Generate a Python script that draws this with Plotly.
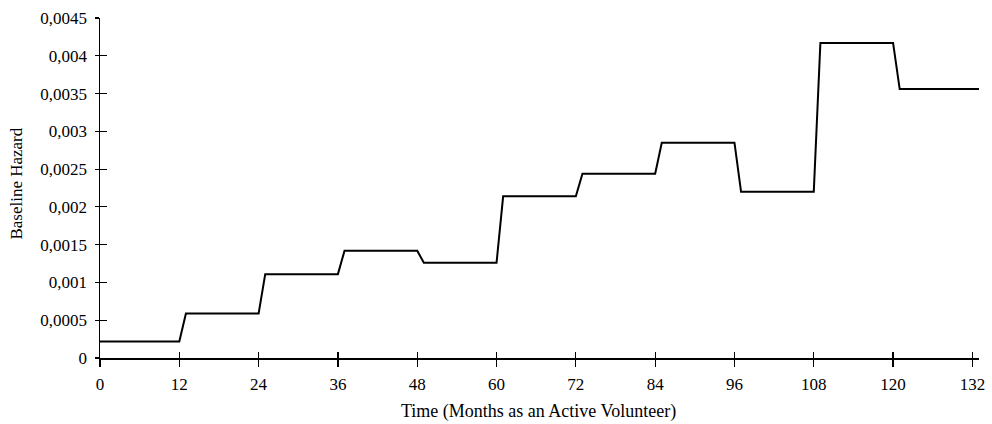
import plotly.graph_objects as go

# Baseline hazard per 12-month period (period starts in months)
period_start = [0, 12, 24, 36, 48, 60, 72, 84, 96, 108, 120]
hazard = [0.00022, 0.00059, 0.00111, 0.00142, 0.00126, 0.00214,
          0.00244, 0.00285, 0.00220, 0.00417, 0.00356]
last_month = 133

x_ticks = [0, 12, 24, 36, 48, 60, 72, 84, 96, 108, 120, 132]
y_ticks = [0, 0.0005, 0.001, 0.0015, 0.002, 0.0025, 0.003, 0.0035, 0.004, 0.0045]
y_tick_text = ["0", "0,0005", "0,001", "0,0015", "0,002", "0,0025",
               "0,003", "0,0035", "0,004", "0,0045"]

# build the step curve (value changes over one month after each period start)
xs, ys = [], []
for i, v in enumerate(hazard):
    start = period_start[i] if i == 0 else period_start[i] + 1
    end = period_start[i + 1] if i + 1 < len(period_start) else last_month
    xs += [start, end]
    ys += [v, v]

FONT = "Liberation Serif"

fig = go.Figure()
fig.add_trace(go.Scatter(x=xs, y=ys, mode="lines",
                         line=dict(color="black", width=2), showlegend=False,
                         hoverinfo="skip"))
# dummy trace for overlay axes (inside ticks -> crossing tick marks)
fig.add_trace(go.Scatter(x=[0], y=[0], xaxis="x2", yaxis="y2", mode="markers",
                         marker=dict(opacity=0), showlegend=False, hoverinfo="skip"))

W, H = 992, 424
L, R, T, B = 100, 992 - 985, 18, 424 - 358
pw = W - L - R
ph = H - T - B

def px_x(px):
    return (px - L) / pw

def px_y(py):
    return ((H - B) - py) / ph

fig.update_layout(
    width=W, height=H,
    margin=dict(l=L, r=R, t=T, b=B),
    plot_bgcolor="white", paper_bgcolor="white",
    font=dict(family=FONT, size=17, color="black"),
    hovermode=False,
    xaxis=dict(range=[0, last_month], tickvals=x_ticks, ticks="outside",
               ticklen=7, tickwidth=1.2, tickcolor="black",
               showline=True, linecolor="black", linewidth=1.5,
               showgrid=False, zeroline=False, ticklabelstandoff=3,
               tickfont=dict(family=FONT, size=17)),
    yaxis=dict(range=[0, 0.0045], tickvals=y_ticks, ticktext=y_tick_text,
               ticks="outside", ticklen=4, tickwidth=1.2, tickcolor="black",
               showline=True, linecolor="black", linewidth=1.5,
               showgrid=False, zeroline=False, ticklabelstandoff=4,
               tickfont=dict(family=FONT, size=17)),
    xaxis2=dict(range=[0, last_month], overlaying="x", tickvals=x_ticks,
                ticks="inside", ticklen=6, tickwidth=1.2, tickcolor="black",
                showticklabels=False, showgrid=False, zeroline=False,
                showline=False, side="bottom", anchor="y2"),
    yaxis2=dict(range=[0, 0.0045], overlaying="y", tickvals=y_ticks,
                ticks="inside", ticklen=7, tickwidth=1.2, tickcolor="black",
                showticklabels=False, showgrid=False, zeroline=False,
                showline=False, side="left", anchor="x2"),
    annotations=[
        dict(text="Time (Months as an Active Volunteer)", xref="paper", yref="paper",
             x=px_x(541), y=px_y(412), xanchor="center",
             yanchor="middle", showarrow=False, font=dict(family=FONT, size=18)),
        dict(text="Baseline Hazard", xref="paper", yref="paper",
             x=px_x(15), y=px_y(184), xanchor="center",
             yanchor="middle", textangle=-90, showarrow=False,
             font=dict(family=FONT, size=17)),
    ],
)

fig.write_html("out.html",
               config={"displayModeBar": False, "staticPlot": True},
               post_script="document.body.style.margin='0';"
                           "document.body.style.overflow='hidden';")
